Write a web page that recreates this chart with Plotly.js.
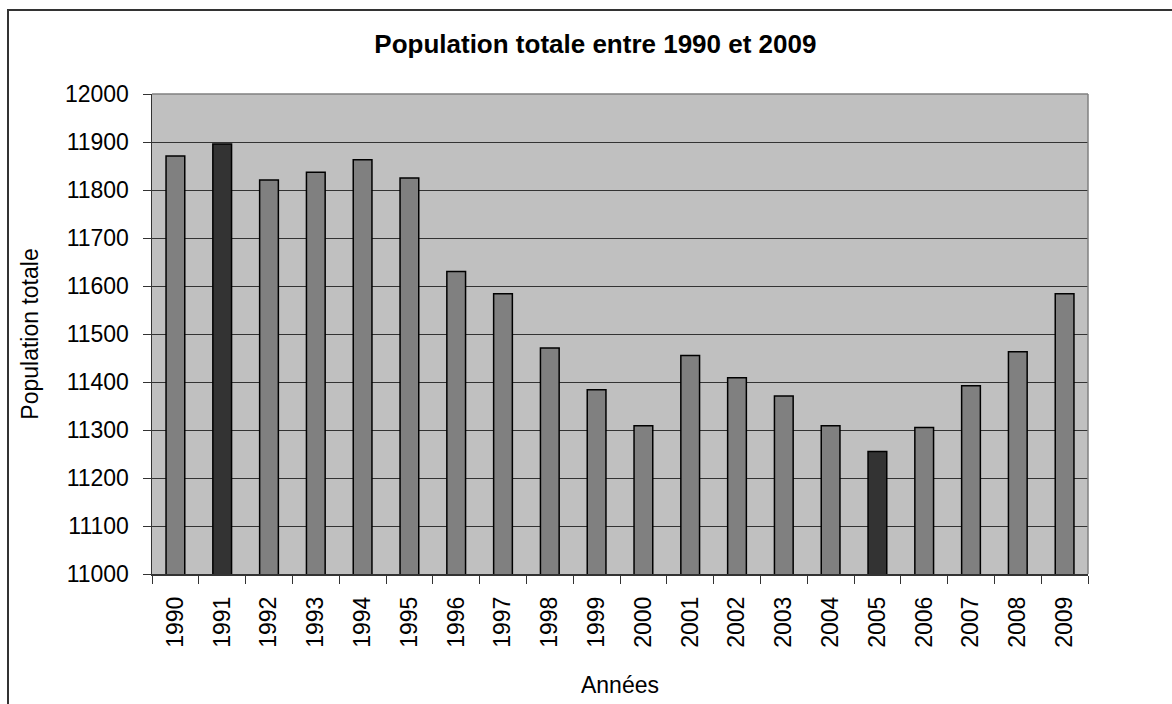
<!DOCTYPE html>
<html>
<head>
<meta charset="utf-8">
<script src="https://cdn.plot.ly/plotly-3.0.1.min.js"></script>
<style>
  html, body { margin: 0; padding: 0; background: #ffffff; }
  #wrap { position: relative; width: 1172px; height: 704px; overflow: hidden; }
  #chart { position: absolute; left: 0; top: 0; width: 1172px; height: 704px; }
  #frame { position: absolute; left: 7px; top: 9px; width: 1200px; height: 760px;
           border: 2px solid #333333; pointer-events: none; box-sizing: border-box; }
</style>
</head>
<body>
<div id="wrap">
  <div id="chart"></div>
  <div id="frame"></div>
</div>
<script>
const years = ["1990","1991","1992","1993","1994","1995","1996","1997","1998","1999",
               "2000","2001","2002","2003","2004","2005","2006","2007","2008","2009"];
const population = [11871, 11896, 11821, 11837, 11863, 11825, 11630, 11584, 11471, 11384,
                    11309, 11455, 11409, 11371, 11309, 11255, 11305, 11392, 11463, 11584];
const highlighted = ["1991", "2005"];
const yTicks = [11000, 11100, 11200, 11300, 11400, 11500, 11600, 11700, 11800, 11900, 12000];

const FONT = '"Liberation Sans", Arial, Helvetica, sans-serif';
const barColors = years.map(y => highlighted.includes(y) ? '#333333' : '#808080');

const trace = {
  type: 'bar',
  x: years,
  y: population,
  marker: { color: barColors, line: { color: '#000000', width: 1.5 } },
  width: 0.4,
  hoverinfo: 'x+y'
};

const layout = {
  width: 1172,
  height: 704,
  margin: { l: 152, r: 84, t: 94, b: 130, pad: 0 },
  paper_bgcolor: '#ffffff',
  plot_bgcolor: '#c0c0c0',
  showlegend: false,
  font: { family: FONT, color: '#000000', size: 23 },
  title: {
    text: 'Population totale entre 1990 et 2009',
    font: { family: FONT, size: 26, color: '#000000', weight: 'bold' },
    xref: 'container', x: 0.508, xanchor: 'center',
    yref: 'container', y: 0.937, yanchor: 'middle'
  },
  xaxis: {
    type: 'category',
    tickmode: 'array',
    tickvals: years,
    ticktext: years,
    tickangle: -90,
    tickfont: { family: FONT, size: 23, color: '#000000' },
    ticks: 'outside',
    tickson: 'boundaries',
    ticklen: 8,
    tickwidth: 1,
    tickcolor: '#333333',
    ticklabelstandoff: 12,
    showline: true,
    linecolor: '#333333',
    linewidth: 1.5,
    showgrid: false,
    zeroline: false,
    automargin: false,
    fixedrange: true,
    title: { text: 'Années', font: { family: FONT, size: 23, color: '#000000' }, standoff: 30 }
  },
  yaxis: {
    range: [11000, 12000],
    tickmode: 'array',
    tickvals: yTicks,
    ticktext: yTicks.map(String),
    tickfont: { family: FONT, size: 23, color: '#000000' },
    ticks: 'outside',
    ticklen: 8,
    tickwidth: 1,
    tickcolor: '#333333',
    ticklabelstandoff: 9,
    showline: true,
    linecolor: '#333333',
    linewidth: 1.5,
    showgrid: true,
    gridcolor: '#333333',
    gridwidth: 1,
    zeroline: false,
    automargin: false,
    fixedrange: true,
    title: { text: 'Population totale', font: { family: FONT, size: 23, color: '#000000' }, standoff: 20 }
  },
  shapes: [
    { type: 'line', xref: 'paper', yref: 'paper', x0: 0, x1: 1, y0: 1, y1: 1,
      line: { color: '#808080', width: 1.5 }, layer: 'above' },
    { type: 'line', xref: 'paper', yref: 'paper', x0: 1, x1: 1, y0: 0, y1: 1,
      line: { color: '#808080', width: 1.5 }, layer: 'above' }
  ]
};

Plotly.newPlot('chart', [trace], layout, { displayModeBar: false, staticPlot: true });
</script>
</body>
</html>
